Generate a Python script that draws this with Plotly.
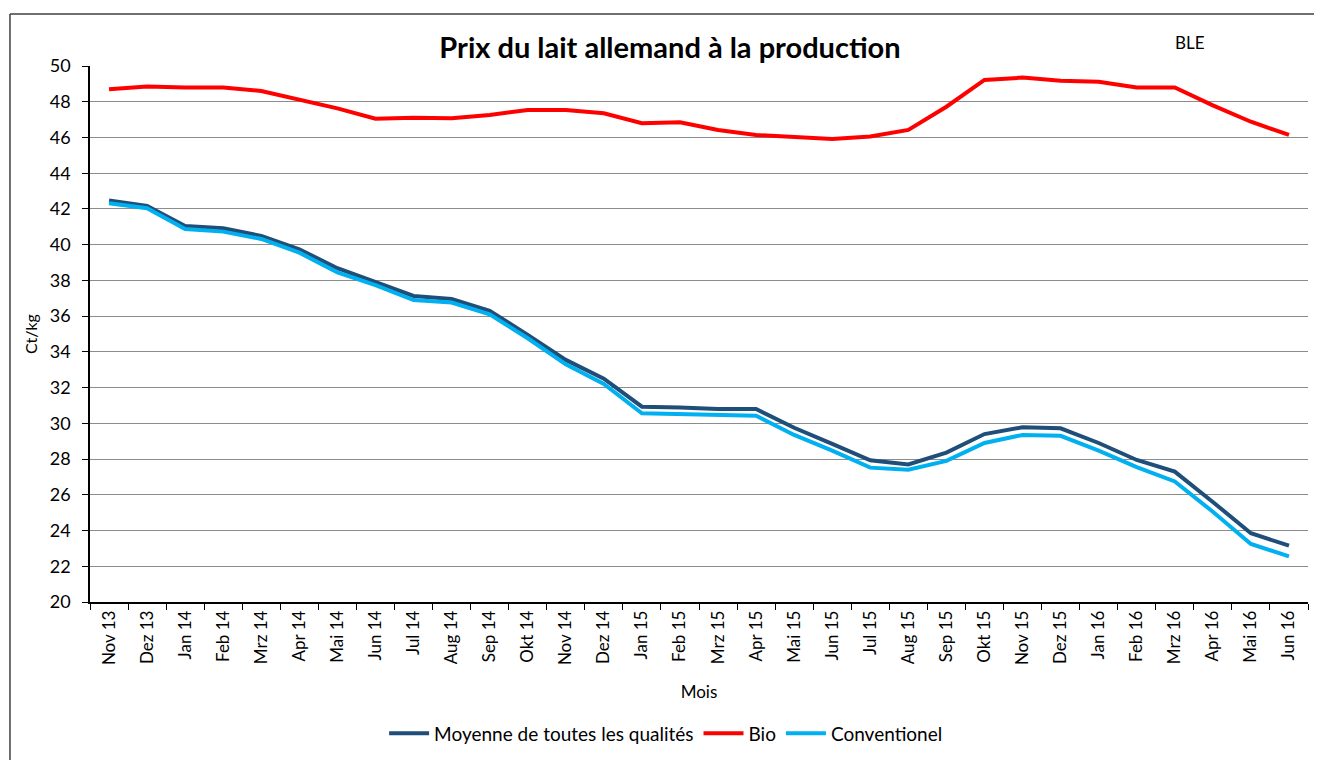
import plotly.graph_objects as go

MONTHS = [
    "Nov 13", "Dez 13", "Jan 14", "Feb 14", "Mrz 14", "Apr 14", "Mai 14", "Jun 14",
    "Jul 14", "Aug 14", "Sep 14", "Okt 14", "Nov 14", "Dez 14", "Jan 15", "Feb 15",
    "Mrz 15", "Apr 15", "Mai 15", "Jun 15", "Jul 15", "Aug 15", "Sep 15", "Okt 15",
    "Nov 15", "Dez 15", "Jan 16", "Feb 16", "Mrz 16", "Apr 16", "Mai 16", "Jun 16",
]

MOYENNE = [
    42.47, 42.17, 41.05, 40.92, 40.49, 39.74, 38.68, 37.93,
    37.13, 36.96, 36.3, 34.95, 33.55, 32.5, 30.93, 30.88,
    30.8, 30.8, 29.75, 28.85, 27.93, 27.7, 28.36, 29.4,
    29.78, 29.72, 28.9, 27.95, 27.3, 25.6, 23.85, 23.15,
]

BIO = [
    48.7, 48.85, 48.8, 48.8, 48.6, 48.14, 47.63, 47.05,
    47.1, 47.07, 47.26, 47.54, 47.54, 47.35, 46.8, 46.85,
    46.42, 46.14, 46.05, 45.92, 46.05, 46.42, 47.72, 49.22,
    49.35, 49.18, 49.12, 48.8, 48.8, 47.8, 46.88, 46.14,
]

CONVENTIONEL = [
    42.32, 42.04, 40.88, 40.73, 40.32, 39.55, 38.45, 37.73,
    36.9, 36.76, 36.1, 34.76, 33.3, 32.2, 30.56, 30.5,
    30.45, 30.43, 29.35, 28.47, 27.52, 27.4, 27.9, 28.9,
    29.35, 29.3, 28.47, 27.55, 26.75, 25.05, 23.25, 22.55,
]

FONT = "Lato, 'Open Sans', sans-serif"

fig = go.Figure()
fig.add_scatter(x=MONTHS, y=MOYENNE, mode="lines", name="Moyenne de toutes les qualités",
                line=dict(color="#1f4e79", width=4))
fig.add_scatter(x=MONTHS, y=BIO, mode="lines", name="Bio",
                line=dict(color="#ff0000", width=4))
fig.add_scatter(x=MONTHS, y=CONVENTIONEL, mode="lines", name="Conventionel",
                line=dict(color="#00b0f0", width=4))

# outer chart frame: only the top and left edges fall inside the picture
frame = dict(color="#404040", width=1.5)
fig.add_shape(type="line", xref="paper", yref="paper", x0=-0.0657, x1=1.1, y0=1.097, y1=1.097,
              line=frame, layer="below")
fig.add_shape(type="line", xref="paper", yref="paper", x0=-0.0657, x1=-0.0657, y0=-0.4, y1=1.097,
              line=frame, layer="below")

fig.add_annotation(text="BLE", xref="paper", yref="paper", x=(1190 - 90) / 1218, y=(602 - 43) / 536,
                   xanchor="center", yanchor="middle",
                   showarrow=False, font=dict(size=17, color="#000000", family=FONT))

fig.update_layout(
    width=1322,
    height=760,
    paper_bgcolor="white",
    plot_bgcolor="white",
    font=dict(family=FONT, color="#000000", size=16),
    margin=dict(l=82, r=22, t=58, b=166),
    title=dict(text="<b>Prix du lait allemand à la production</b>", x=662 / 1322, xanchor="center",
               y=(760 - 40) / 760, yanchor="middle", font=dict(size=29, family=FONT)),
    legend=dict(orientation="h", x=0.473, xanchor="center", y=-0.245, yanchor="middle",
                font=dict(size=19, family=FONT), traceorder="normal", itemwidth=40),
    showlegend=True,
)
fig.update_xaxes(
    type="category",
    range=[-0.5, len(MONTHS) - 0.5],
    tickangle=-90,
    tickson="boundaries",
    ticks="outside",
    ticklen=6,
    tickcolor="#000000",
    showline=True,
    linecolor="#000000",
    linewidth=1.5,
    showgrid=False,
    tickfont=dict(size=17),
    title=dict(text="Mois", font=dict(size=17), standoff=22),
)
fig.update_yaxes(
    range=[20, 50],
    dtick=2,
    ticks="outside",
    ticklen=6,
    tickcolor="#000000",
    showline=True,
    linecolor="#000000",
    linewidth=1.5,
    showgrid=True,
    gridcolor="#8c8c8c",
    gridwidth=1.2,
    zeroline=False,
    tickfont=dict(size=18),
    ticklabelstandoff=8,
    title=dict(text="Ct/kg", font=dict(size=16), standoff=8),
)

fig.write_html("out.html")
